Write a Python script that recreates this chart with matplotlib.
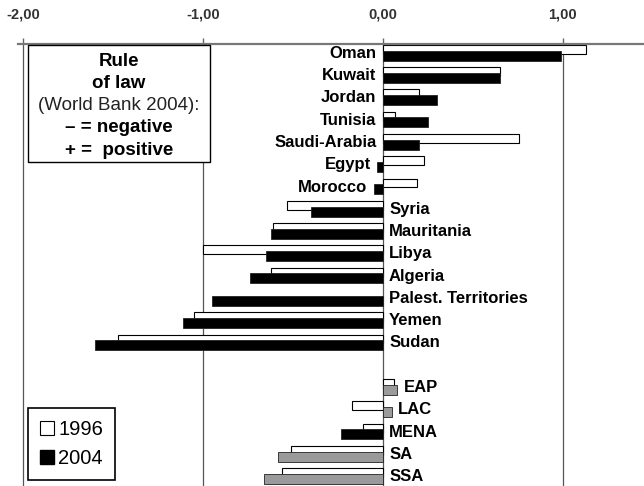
"""Rule of law scores 1996 vs 2004 for MENA countries and world regions."""

import matplotlib
matplotlib.use("Agg")
import matplotlib.pyplot as plt
from matplotlib.patches import Patch, Rectangle
import numpy as np

countries = ["Oman", "Kuwait", "Jordan", "Tunisia", "Saudi-Arabia", "Egypt", "Morocco",
             "Syria", "Mauritania", "Libya", "Algeria", "Palest. Territories", "Yemen", "Sudan"]
country_1996 = [1.13, 0.65, 0.20, 0.07, 0.76, 0.23, 0.19,
                -0.53, -0.61, -1.00, -0.62, np.nan, -1.05, -1.47]
country_2004 = [0.99, 0.65, 0.30, 0.25, 0.20, -0.03, -0.05,
                -0.40, -0.62, -0.65, -0.74, -0.95, -1.11, -1.60]

regions = ["EAP", "LAC", "MENA", "SA", "SSA"]
region_1996 = [0.06, -0.17, -0.11, -0.51, -0.56]
region_2004 = [0.08, 0.05, -0.23, -0.58, -0.66]
highlight = "MENA"

ticks = [-2, -1, 0, 1]
tick_labels = ["-2,00", "-1,00", "0,00", "1,00"]

box_lines = ["Rule", "of law", "(World Bank 2004):", "\u2013 = negative", "+ =  positive"]
box_bold = [True, True, False, True, True]

plt.rcParams["font.family"] = ["Liberation Sans", "DejaVu Sans"]

W, H = 644, 486
fig = plt.figure(figsize=(W / 100, H / 100), dpi=100)
ax = fig.add_axes([17.5 / W, 0, 626.5 / W, 442 / H])

labels = countries + [""] + regions
v96 = np.array(country_1996 + [np.nan] + region_1996, dtype=float)
v04 = np.array(country_2004 + [np.nan] + region_2004, dtype=float)
rows = np.arange(len(labels))
is_region = np.array([False] * len(countries) + [False] + [True] * len(regions))

colors_04 = []
for name, reg in zip(labels, is_region):
    if reg and name != highlight:
        colors_04.append("#9a9a9a")
    else:
        colors_04.append("black")

ok96 = ~np.isnan(v96)
ok04 = ~np.isnan(v04)
ax.barh(rows[ok96] - 0.18, v96[ok96], height=0.40, color="white",
        edgecolor="black", linewidth=0.8, zorder=2)
ax.barh(rows[ok04] + 0.10, v04[ok04], height=0.45, color=np.array(colors_04)[ok04],
        edgecolor="#222222", linewidth=0.6, zorder=3)

for i, name in enumerate(labels):
    if not name:
        continue
    lo = np.nanmin([0, v96[i], v04[i]])
    hi = np.nanmax([0, v96[i], v04[i]])
    if not is_region[i] and v96[i] > 0:
        ax.text(lo - 0.035, i, name, ha="right", va="center",
                fontsize=12, fontweight="bold", zorder=4)
    else:
        ax.text(hi + 0.035, i, name, ha="left", va="center",
                fontsize=12, fontweight="bold", zorder=4)

ax.set_xlim(-2.03, 1.452)
ax.set_ylim(19.42, -0.42)
ax.xaxis.tick_top()
ax.set_xticks(ticks)
ax.set_xticklabels(tick_labels, fontsize=10.5, fontweight="bold", color="#333333")
ax.tick_params(axis="x", length=4, width=1, color="#666666", pad=12)
ax.set_yticks([])
ax.grid(axis="x", color="#555555", linewidth=0.9, zorder=0)
ax.set_axisbelow(True)
for side in ("left", "right", "bottom"):
    ax.spines[side].set_visible(False)
ax.spines["top"].set_color("#777777")
ax.spines["top"].set_linewidth(1.6)

# annotation box top left
x0, y0, x1, y1 = 28, 45, 210, 162
fig.add_artist(Rectangle((x0 / W, 1 - y1 / H), (x1 - x0) / W, (y1 - y0) / H,
                         transform=fig.transFigure, facecolor="white",
                         edgecolor="black", linewidth=1.0, zorder=5))
line_y = [61, 83, 106, 128, 150]
for text, bold, y in zip(box_lines, box_bold, line_y):
    fig.text((x0 + x1) / 2 / W, 1 - y / H, text, ha="center", va="center",
             fontsize=13.5, fontweight="bold" if bold else "normal",
             color="black" if bold else "#222222", zorder=6)

handles = [Patch(facecolor="white", edgecolor="black", linewidth=0.8),
           Patch(facecolor="black", edgecolor="black")]
leg = fig.legend(handles, ["1996", "2004"], loc="upper left",
                 bbox_to_anchor=(28 / W, 1 - 408 / H), fontsize=14.5,
                 handlelength=0.7, handleheight=0.7, handletextpad=0.2,
                 borderpad=0.6, labelspacing=0.5, borderaxespad=0,
                 fancybox=False, edgecolor="black", framealpha=1)
leg.get_frame().set_linewidth(1.2)

fig.savefig("out.png", dpi=100)
